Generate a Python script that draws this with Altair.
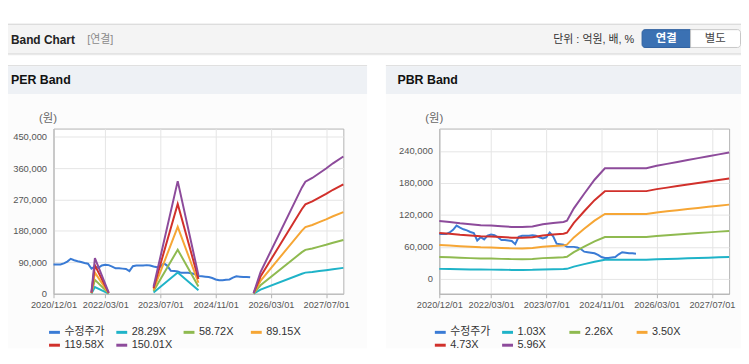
import altair as alt
import pandas as pd

# ---------------- data ----------------
PER_SERIES = ["수정주가", "28.29X", "58.72X", "89.15X", "119.58X", "150.01X"]
PBR_SERIES = ["수정주가", "1.03X", "2.26X", "3.50X", "4.73X", "5.96X"]
SERIES_COLORS = ["#3a7bd5", "#1fb3c8", "#8fba50", "#f6a635", "#d1302b", "#8d4b9b"]

# x positions: months after 2020/12/01
X_TICK_MONTHS = [0, 15, 31, 47, 63, 79]
X_TICK_LABELS = ["2020/12/01", "2022/03/01", "2023/07/01", "2024/11/01", "2026/03/01", "2027/07/01"]
X_DOMAIN = [0, 84]

# adjusted share price (monthly, from 2020/12)
PRICE = [84000, 84000, 84000, 87000, 92000, 100000, 96000, 93000, 91000, 88000,
         86000, 72000, 78000, 74000, 81000, 83000, 82000, 78000, 73000, 73000,
         72000, 71000, 65000, 79000, 81000, 81000, 81000, 82000, 81000, 78000,
         76000, 78000, 87000, 80000, 66000, 65000, 64000, 60000, 60000, 60000,
         59000, 56000, 51000, 50000, 49000, 48000, 45000, 41000, 39000, 39000,
         40000, 41000, 46000, 50000, 49000, 48000, 48000, 47000]
PRICE_MONTHS = list(range(len(PRICE)))

# PER band (gaps where earnings are negative -> separate segments)
PER_MONTHS = [11, 12, 16, 29, 36, 42, 58, 60, 72, 73, 75, 77, 79, 81, 84]
PER_SEGMENT = [1, 1, 1, 2, 2, 2, 3, 3, 3, 3, 3, 3, 3, 3, 3]
PER_28_29 = [700, 19200, 600, 3800, 60800, 10000, 400, 11700, 57400, 60500, 62500, 65100, 67600, 70400, 74100]
PER_58_72 = [1500, 39900, 1200, 7800, 126200, 20800, 900, 24300, 119200, 125700, 129800, 135100, 140300, 146200, 153800]
PER_89_15 = [2200, 60600, 1800, 11900, 191700, 31600, 1300, 36800, 181000, 190800, 197000, 205000, 213100, 222000, 233600]
PER_119_58 = [3000, 81300, 2400, 15900, 257100, 42500, 1800, 49400, 242700, 255900, 264300, 275000, 285800, 297800, 313300]
PER_150_01 = [3800, 102000, 3000, 20000, 322500, 53300, 2300, 62000, 304500, 321000, 331500, 345000, 358500, 373500, 393000]
PER_Y_DOMAIN = [0, 473000]
PER_Y_TICKS = [0, 90000, 180000, 270000, 360000, 450000]

# PBR band
PBR_MONTHS = [0, 3, 6, 9, 12, 15, 18, 21, 24, 27, 30, 33, 36, 37, 39, 42, 45, 48, 51, 54,
              57, 60, 63, 66, 69, 72, 75, 78, 81, 84]
PBR_SEGMENT = [1] * len(PBR_MONTHS)
PBR_1_03 = [18700, 18400, 18000, 17700, 17400, 17300, 17100, 16800, 16800, 17000, 17700, 18100, 18400, 18800, 22900,
            27600, 32100, 35800, 35800, 35800, 35800, 35800, 36700, 37300, 37900, 38500, 39100, 39800, 40400, 41000]
PBR_2_26 = [41100, 40500, 39600, 38900, 38200, 38000, 37500, 37000, 36800, 37300, 38900, 39800, 40500, 41400, 50200,
            60600, 70500, 78600, 78600, 78600, 78600, 78600, 80500, 81800, 83200, 84500, 85900, 87200, 88600, 89900]
PBR_3_50 = [63700, 62700, 61300, 60200, 59200, 58800, 58100, 57200, 57100, 57800, 60200, 61600, 62700, 64100, 77700,
            93800, 109200, 121800, 121800, 121800, 121800, 121800, 124600, 126700, 128800, 130900, 133000, 135100, 137200, 139300]
PBR_4_73 = [86100, 84700, 82800, 81400, 79900, 79500, 78500, 77300, 77100, 78000, 81400, 83200, 84700, 86600, 105000,
            126800, 147600, 164600, 164600, 164600, 164600, 164600, 168400, 171200, 174100, 176900, 179700, 182600, 185400, 188300]
PBR_5_96 = [108500, 106700, 104300, 102500, 100700, 100100, 98900, 97400, 97100, 98300, 102500, 104900, 106700, 109100, 132300,
            159700, 186000, 207400, 207400, 207400, 207400, 207400, 212200, 215800, 219300, 222900, 226500, 230100, 233600, 237200]
PBR_Y_DOMAIN = [-28000, 282000]
PBR_Y_TICKS = [0, 60000, 120000, 180000, 240000]

# ---------------- styling ----------------
FONT = "Liberation Sans, Noto Sans CJK KR, sans-serif"
PLOT_W, PLOT_H = 293, 167
OX = 46  # canvas x of left plot origin (decor layer offset)


def frame(months, segs, names, bands):
    rows = [{"m": m, "v": v, "s": names[0], "g": "price"} for m, v in zip(PRICE_MONTHS, PRICE)]
    for name, vals in zip(names[1:], bands):
        for m, sg, v in zip(months, segs, vals):
            rows.append({"m": m, "v": v, "s": name, "g": f"{name}#{sg}"})
    return pd.DataFrame(rows)


label_expr = ""
for m, lab in zip(X_TICK_MONTHS, X_TICK_LABELS):
    label_expr += f"datum.value === {m} ? '{lab}' : "
label_expr += "''"


def panel(df, names, ydom, yticks):
    legend = alt.Legend(orient="none", legendX=-6, legendY=199, direction="horizontal", columns=4,
                        title=None, symbolType="stroke", symbolSize=121, symbolStrokeWidth=3,
                        labelFont=FONT, labelFontSize=11, labelColor="#333333", labelOffset=3,
                        columnPadding=5, rowPadding=0, gridAlign="all", padding=0, labelLimit=90)
    return alt.Chart(df).mark_line(strokeWidth=2).encode(
        x=alt.X("m:Q", scale=alt.Scale(domain=X_DOMAIN, nice=False, zero=False),
                axis=alt.Axis(values=X_TICK_MONTHS, labelExpr=label_expr, title=None, grid=True,
                              gridColor="#e5e5e5", domainColor="#b3b3b3", tickColor="#b3b3b3", tickSize=4,
                              labelFont=FONT, labelFontSize=9.3, labelColor="#555555", labelPadding=3,
                              labelFlush=False, labelOverlap=False)),
        y=alt.Y("v:Q", scale=alt.Scale(domain=ydom, nice=False, zero=False),
                axis=alt.Axis(values=yticks, format=",d", title=None, grid=True, gridColor="#e5e5e5",
                              domainColor="#b3b3b3", ticks=False, labelPadding=7,
                              labelFont=FONT, labelFontSize=9.5, labelColor="#555555", labelOverlap=False)),
        color=alt.Color("s:N", scale=alt.Scale(domain=names, range=SERIES_COLORS), legend=legend),
        detail="g:N",
    ).properties(width=PLOT_W, height=PLOT_H, view=alt.ViewBackground(fill="white", stroke="#b3b3b3"))


DUMMY = alt.Data(values=[{"k": 0}])


def box(x0, y0, x1, y1, fill, **kw):
    return alt.Chart(DUMMY).mark_rect(fill=fill, **kw).encode(
        x=alt.value(x0 - OX), x2=alt.value(x1 - OX), y=alt.value(y0), y2=alt.value(y1))


def label(x, y, s, **kw):
    base = dict(align="left", baseline="middle", font=FONT, fontSize=11, color="#333333")
    base.update(kw)
    return alt.Chart(DUMMY).mark_text(**base).encode(
        x=alt.value(x - OX), y=alt.value(y), text=alt.value(s))


decor = [
    box(0, 0, 741, 342, "white"),
    box(0, 14, 741, 15, "#c9c9c9"),
    box(0, 15, 741, 44, "#f4f4f4"),
    box(0, 44, 741, 45, "#cfcfcf"),
    box(0, 45, 741, 46, "#ebebeb"),
    label(3, 30.5, "Band Chart", fontWeight="bold", fontSize=12, color="#222222"),
    label(80, 30.5, "[연결]", color="#8a8a8a"),
    label(633, 30.5, "단위 : 억원, 배, %", align="right", color="#333333"),
    box(641, 20, 690, 38, "#3b71b3", stroke="#2e5f9e", cornerRadiusTopLeft=3, cornerRadiusBottomLeft=3),
    label(665.5, 29.5, "연결", align="center", fontWeight="bold", color="white", fontSize=11.5),
    box(690, 20, 740.5, 38, "white", stroke="#c6c6c6", cornerRadiusTopRight=3, cornerRadiusBottomRight=3),
    label(715, 29.5, "별도", align="center", color="#444444", fontSize=11.5),
    # left panel
    box(0, 56, 363, 57, "#d6d6d6"),
    box(0, 57, 363, 85, "#eef1f5"),
    box(0, 85, 363, 342, "#fcfcfc"),
    label(3, 71, "PER Band", fontWeight="bold", fontSize=12.5, color="#111111"),
    label(40.5, 110, "(원)", align="center", color="#666666", fontSize=11.5),
    # right panel
    box(382, 56, 741, 57, "#d6d6d6"),
    box(382, 57, 741, 85, "#eef1f5"),
    box(382, 85, 741, 342, "#fcfcfc"),
    label(393.7, 71, "PBR Band", fontWeight="bold", fontSize=12.5, color="#111111"),
    label(431, 110, "(원)", align="center", color="#666666", fontSize=11.5),
]
bg = alt.layer(*decor).properties(width=1, height=1, view=alt.ViewBackground(strokeWidth=0, fillOpacity=0))

per_df = frame(PER_MONTHS, PER_SEGMENT, PER_SERIES, [PER_28_29, PER_58_72, PER_89_15, PER_119_58, PER_150_01])
pbr_df = frame(PBR_MONTHS, PBR_SEGMENT, PBR_SERIES, [PBR_1_03, PBR_2_26, PBR_3_50, PBR_4_73, PBR_5_96])

per = panel(per_df, PER_SERIES, PER_Y_DOMAIN, PER_Y_TICKS)
pbr = panel(pbr_df, PBR_SERIES, PBR_Y_DOMAIN, PBR_Y_TICKS)

panels = alt.hconcat(per, pbr, spacing=97, bounds="flush").resolve_scale(
    x="independent", y="independent", color="independent")
chart = alt.vconcat(bg, panels, spacing=119, bounds="flush").properties(padding=0).configure(font=FONT)

chart.save("out.html", embed_options={"renderer": "svg", "actions": False})
